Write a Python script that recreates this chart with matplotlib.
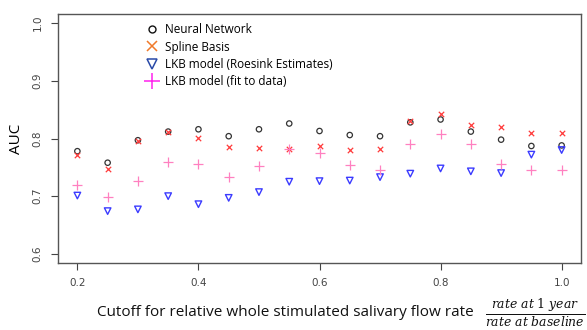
import numpy as np
import matplotlib
matplotlib.use("Agg")
from matplotlib import pyplot as plt
from matplotlib.lines import Line2D

cutoff = [0.2, 0.25, 0.3, 0.35, 0.4, 0.45, 0.5, 0.55, 0.6, 0.65, 0.7, 0.75, 0.8, 0.85, 0.9, 0.95, 1.0]
auc_nn = [0.778, 0.758, 0.797, 0.812, 0.816, 0.804, 0.816, 0.826, 0.813, 0.806, 0.804, 0.828, 0.833, 0.812, 0.798, 0.787, 0.788]
auc_spline = [0.772, 0.747, 0.796, 0.812, 0.801, 0.785, 0.783, 0.781, 0.787, 0.780, 0.782, 0.830, 0.842, 0.824, 0.820, 0.809, 0.809]
auc_roesink = [0.701, 0.674, 0.677, 0.700, 0.686, 0.697, 0.707, 0.725, 0.726, 0.727, 0.733, 0.739, 0.748, 0.743, 0.740, 0.772, 0.780]
auc_fit = [0.720, 0.699, 0.727, 0.759, 0.755, 0.734, 0.753, 0.782, 0.775, 0.754, 0.746, 0.790, 0.808, 0.790, 0.756, 0.745, 0.745]

legend_labels = ["Neural Network", "Spline Basis", "LKB model (Roesink Estimates)", "LKB model (fit to data)"]

fig = plt.figure(figsize=(5.87, 3.30), dpi=100)
ax = fig.add_axes([58 / 587, 67 / 330, 523 / 587, 249 / 330])

ax.scatter(cutoff, auc_nn, marker="o", s=15, facecolors="none", edgecolors="#333333", linewidths=0.9, zorder=3)
ax.scatter(cutoff, auc_spline, marker="x", s=15, color="#ff3b3b", linewidths=0.9, zorder=3)
ax.scatter(cutoff, auc_roesink, marker="v", s=22, facecolors="none", edgecolors="#3b3bff", linewidths=1.0, zorder=3)
ax.scatter(cutoff, auc_fit, marker="+", s=45, color="#ff80c0", linewidths=0.9, zorder=3)

ax.set_xlim(0.168, 1.032)
ax.set_ylim(0.584, 1.016)
ax.set_xticks([0.2, 0.4, 0.6, 0.8, 1.0])
ax.set_xticklabels(["0.2", "0.4", "0.6", "0.8", "1.0"])
ax.set_yticks([0.6, 0.7, 0.8, 0.9, 1.0])
ax.set_yticklabels(["0.6", "0.7", "0.8", "0.9", "1.0"], rotation=90, va="center")
ax.tick_params(axis="both", labelsize=7.5, colors="#444444", length=5, width=0.8, pad=6)
for sp in ax.spines.values():
    sp.set_color("#555555")
    sp.set_linewidth(1.0)

ax.set_ylabel("AUC", fontsize=11, family="Open Sans", labelpad=6)

# x label: text plus fraction
fig.text(97 / 587, 17 / 330, "Cutoff for relative whole stimulated salivary flow rate",
         fontsize=11.0, family="Open Sans", va="center", ha="left", color="#111111")
plt.rcParams["mathtext.fontset"] = "dejavuserif"
fig.text(585 / 587, 17 / 330, r"$\frac{rate\ at\ 1\ year}{rate\ at\ baseline}$",
         fontsize=12.8, va="center", ha="right", color="#111111")

handles = [
    Line2D([], [], linestyle="none", marker="o", markersize=5, markerfacecolor="none",
           markeredgecolor="#111111", markeredgewidth=1.0),
    Line2D([], [], linestyle="none", marker="x", markersize=7, color="#f07a2a", markeredgewidth=1.1),
    Line2D([], [], linestyle="none", marker="v", markersize=7, markerfacecolor="none",
           markeredgecolor="#2a4aa8", markeredgewidth=1.1),
    Line2D([], [], linestyle="none", marker="+", markersize=11, color="#ff22ee", markeredgewidth=1.1),
]
leg = ax.legend(handles, legend_labels, loc="upper left", bbox_to_anchor=(0.14, 1.0),
                frameon=False, handletextpad=0.1, labelspacing=0.35,
                prop={"family": "Open Sans", "size": 8.5}, borderaxespad=0.4)

fig.savefig("out.png", dpi=100)
